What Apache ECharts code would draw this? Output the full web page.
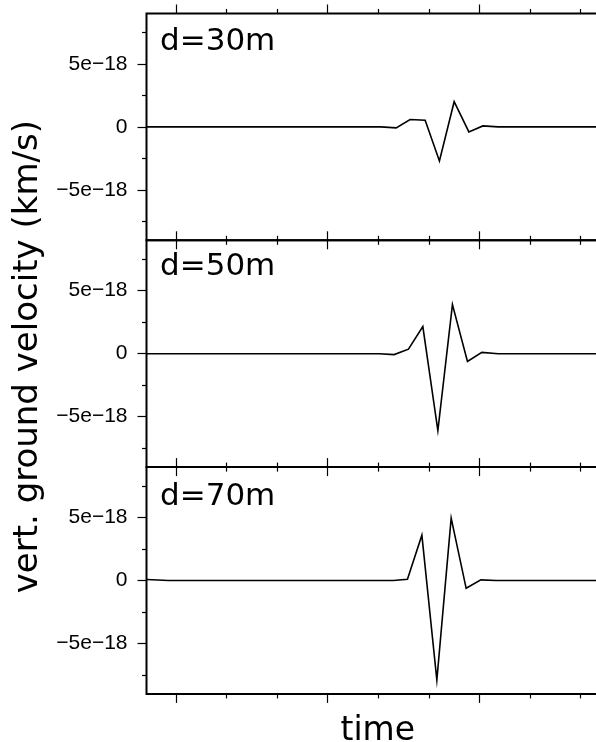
<!DOCTYPE html>
<html>
<head>
<meta charset="utf-8">
<script src="https://cdn.jsdelivr.net/npm/echarts@6/dist/echarts.min.js"></script>
<style>
  html, body { margin: 0; padding: 0; background: #fff; }
  #chart { width: 596px; height: 742px; }
</style>
</head>
<body>
<div id="chart"></div>
<script>
// Station labels (source distance) for the three stacked traces
const panelLabels = ['d=30m', 'd=50m', 'd=70m'];

// Time samples (axis units) and vertical ground velocity (km/s, scaled by 1e-18)
const time30 = [-0.58, 4.05, 4.354, 4.630, 4.927, 5.209, 5.500, 5.791, 6.067, 6.37, 8.56];
const vel30  = [0, 0, -0.08, 0.59, 0.53, -2.70, 2.00, -0.40, 0.08, 0, 0];

const time50 = [-0.58, 4.02, 4.314, 4.597, 4.881, 5.178, 5.466, 5.763, 6.047, 6.37, 8.56];
const vel50  = [0, 0, -0.07, 0.36, 2.15, -6.10, 3.90, -0.62, 0.10, 0, 0];

const time70 = [-0.58, -0.146, 4.0, 4.300, 4.577, 4.862, 5.158, 5.441, 5.737, 6.028, 6.33, 8.56];
const vel70  = [0.08, 0, 0, 0, 0.10, 3.60, -7.90, 4.95, -0.62, 0.05, 0, 0];

const velScale = 1e-18;

// Axis ticks
const xRange = [-0.58, 8.56];
const xMajorTicks = [0, 3, 6];
const xMinorTicks = [1, 2, 4, 5, 7, 8];
const yRange = [-9e-18, 9e-18];
const yMajorTicks = [-5e-18, 0, 5e-18];
const yMinorTicks = [-7.5e-18, -2.5e-18, 2.5e-18, 7.5e-18];

const xTitle = 'time';
const yTitle = 'vert. ground velocity (km/s)';

const traces = [
  { t: time30, v: vel30 },
  { t: time50, v: vel50 },
  { t: time70, v: vel70 }
];

const chart = echarts.init(document.getElementById('chart'), null, { renderer: 'canvas' });

// The frame runs a little past the right edge of the page
const plotLeft = 146.5;
const plotWidth = 462.5;
const panelTops = [13.5, 240.3, 467.1];
const panelHeight = 226.8;
const labelTops = [26.5, 251.5, 481.5];

function fmtTick(v) {
  if (Math.abs(v) < 1e-30) return '0';
  const m = Math.round(Math.abs(v) / 1e-18);
  return (v < 0 ? '\u2212' : '') + m + 'e\u221218';
}

const grids = [], xAxes = [], yAxes = [], series = [], graphics = [];
const tickStyle = { color: '#000', width: 1.2 };

panelTops.forEach((top, i) => {
  grids.push({
    left: plotLeft, top: top, width: plotWidth, height: panelHeight,
    outerBoundsMode: 'none', containLabel: false,
    show: true, borderColor: '#000', borderWidth: 2, backgroundColor: 'transparent'
  });

  const xBase = {
    type: 'value', gridIndex: i, min: xRange[0], max: xRange[1],
    axisLine: { show: false, onZero: false }, splitLine: { show: false },
    axisLabel: { show: false }
  };
  ['bottom', 'top'].forEach(pos => {
    xAxes.push(Object.assign({}, xBase, {
      position: pos,
      axisTick: { show: true, inside: false, length: 9, lineStyle: tickStyle, customValues: xMajorTicks }
    }));
    xAxes.push(Object.assign({}, xBase, {
      position: pos,
      axisTick: { show: true, inside: false, length: 4.5, lineStyle: tickStyle, customValues: xMinorTicks }
    }));
  });
  if (i === panelTops.length - 1) {
    const ax = xAxes[xAxes.length - 4];
    ax.name = xTitle;
    ax.nameLocation = 'middle';
    ax.nameGap = 21;
    ax.nameTextStyle = { fontFamily: 'DejaVu Sans', fontSize: 33, color: '#000' };
  }

  const yMajor = {
    type: 'value', gridIndex: i, position: 'left', min: yRange[0], max: yRange[1],
    axisLine: { show: false, onZero: false }, splitLine: { show: false },
    axisTick: { show: true, inside: false, length: 9, lineStyle: tickStyle, customValues: yMajorTicks },
    axisLabel: {
      show: true, customValues: yMajorTicks, margin: 19, formatter: fmtTick,
      fontFamily: 'Liberation Sans', fontSize: 21, color: '#000'
    }
  };
  if (i === 1) {
    yMajor.name = yTitle;
    yMajor.nameLocation = 'middle';
    yMajor.nameRotate = 90;
    yMajor.nameGap = 97;
    yMajor.nameTextStyle = {
      fontFamily: 'DejaVu Sans', fontSize: 34, color: '#000', padding: [0, 6, 0, 0]
    };
  }
  yAxes.push(yMajor);
  yAxes.push({
    type: 'value', gridIndex: i, position: 'left', min: yRange[0], max: yRange[1],
    axisLine: { show: false, onZero: false }, splitLine: { show: false }, axisLabel: { show: false },
    axisTick: { show: true, inside: false, length: 4.5, lineStyle: tickStyle, customValues: yMinorTicks }
  });

  const tr = traces[i];
  series.push({
    type: 'line',
    xAxisIndex: i * 4,
    yAxisIndex: i * 2,
    data: tr.t.map((t, k) => [t, tr.v[k] * velScale]),
    showSymbol: false,
    symbol: 'none',
    lineStyle: { color: '#000', width: 1.6, join: 'miter', miterLimit: 20 },
    silent: true,
    clip: true
  });

  graphics.push({
    type: 'text', left: 160, top: labelTops[i],
    style: { text: panelLabels[i], fill: '#000', font: '31px "DejaVu Sans"' }
  });
});

chart.setOption({
  animation: false,
  backgroundColor: '#fff',
  grid: grids,
  xAxis: xAxes,
  yAxis: yAxes,
  series: series,
  graphic: graphics
});
</script>
</body>
</html>
